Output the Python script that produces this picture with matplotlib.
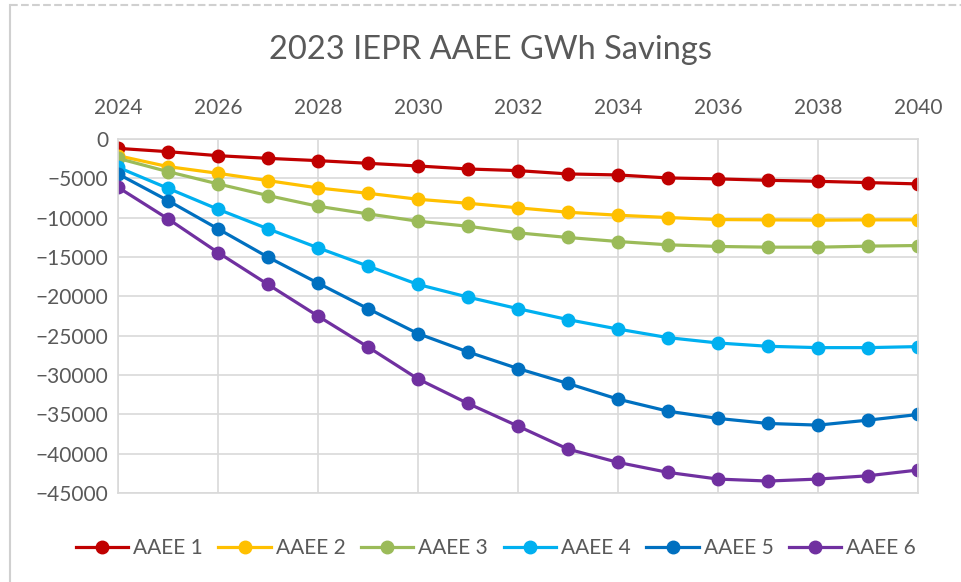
import numpy as np
import matplotlib.pyplot as plt
from matplotlib.lines import Line2D

years = np.arange(2024, 2041)

aaee1 = [-1190, -1610, -2120, -2460, -2750, -3090, -3430, -3810, -4020,
         -4440, -4570, -4950, -5070, -5250, -5380, -5540, -5710]
aaee2 = [-2120, -3510, -4360, -5290, -6220, -6900, -7660, -8170, -8750,
         -9310, -9690, -9980, -10240, -10280, -10320, -10280, -10280]
aaee3 = [-2460, -4150, -5710, -7190, -8550, -9520, -10450, -11090, -11930,
         -12520, -13030, -13450, -13660, -13750, -13750, -13620, -13540]
aaee4 = [-3600, -6270, -8930, -11420, -13830, -16160, -18490, -20100, -21570,
         -22960, -24160, -25250, -25930, -26350, -26520, -26520, -26390]
aaee5 = [-4440, -7830, -11420, -15020, -18320, -21570, -24740, -27070, -29180,
         -31080, -33070, -34600, -35520, -36160, -36370, -35740, -35020]
aaee6 = [-6140, -10150, -14430, -18490, -22510, -26440, -30500, -33620, -36500,
         -39420, -41110, -42380, -43230, -43480, -43230, -42810, -42080]

series = [aaee1, aaee2, aaee3, aaee4, aaee5, aaee6]
names = ['AAEE 1', 'AAEE 2', 'AAEE 3', 'AAEE 4', 'AAEE 5', 'AAEE 6']
colors = ['#C00000', '#FFC000', '#9BBB59', '#00B0F0', '#0070C0', '#7030A0']

plt.rcParams['font.family'] = ['Lato', 'DejaVu Sans']
txt = '#595959'
grid = '#d9d9d9'

fig = plt.figure(figsize=(9.61, 5.82), dpi=100)
ax = fig.add_axes([118/961, 1-493/582, 800/961, 354/582])

for vals, name, c in zip(series, names, colors):
    ax.plot(years, vals, color=c, lw=2.3, marker='o', ms=9, label=name)

ax.set_xlim(2024, 2040)
ax.set_ylim(-45000, 0)
ax.set_xticks(np.arange(2024, 2041, 2))
ax.set_yticks(np.arange(-45000, 1, 5000))
ax.xaxis.tick_top()
ax.tick_params(length=0, labelsize=15, colors=txt)
ax.tick_params(axis='x', pad=15)
ax.tick_params(axis='y', pad=7)
ax.grid(True, color=grid, lw=1.2)
ax.set_axisbelow(True)
for s in ax.spines.values():
    s.set_color(grid)
    s.set_linewidth(1.2)

fig.text(0.51, 1-50/582, '2023 IEPR AAEE GWh Savings', ha='center', va='center',
         fontsize=23.5, color=txt)

ax.legend(loc='center', bbox_to_anchor=(0.4725, -0.155), ncol=6, frameon=False,
          fontsize=15, labelcolor=txt, handlelength=2.5, handletextpad=0.25,
          columnspacing=0.75)

fig.add_artist(Line2D([10/961, 10/961], [0, 1-5/582], color='#d0d0d0', lw=1.5))
fig.add_artist(Line2D([10/961, 1], [1-5/582, 1-5/582], color='#d0d0d0', lw=1.5, ls='--'))

fig.savefig('out.png', dpi=100, facecolor='white')
